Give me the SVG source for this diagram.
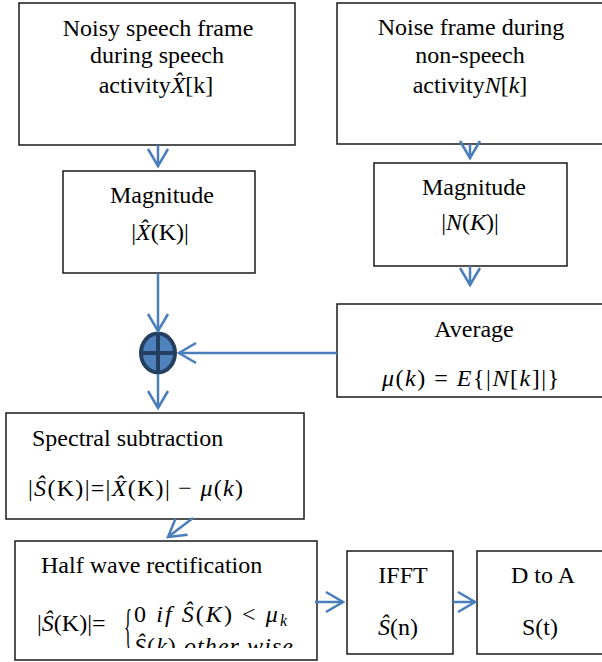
<svg xmlns="http://www.w3.org/2000/svg" width="602" height="662" viewBox="0 0 602 662">
  <style>
    .box { fill: #ffffff; stroke: #1a1a1a; stroke-width: 1.5; }
    text { font-family: 'Liberation Serif', 'DejaVu Serif', serif; font-size: 24px; fill: #000; }
    .i { font-style: italic; }
    .c { text-anchor: middle; }
    .sub { font-size: 16px; }
    .conn { stroke: #4a7ebb; stroke-width: 2.5; fill: none; }
  </style>
  <defs>
    <marker id="arr" markerUnits="userSpaceOnUse" markerWidth="22" markerHeight="24" viewBox="-1 -1 22 24" refX="18" refY="11" orient="auto">
      <path d="M1,1 L18,11 L1,21" fill="none" stroke="#4a7ebb" stroke-width="2.5"/>
    </marker>
    <clipPath id="hwclip">
      <rect x="16" y="542" width="300" height="106"/>
    </clipPath>
  </defs>
  <rect width="602" height="662" fill="#ffffff"/>

  <g id="noisy-frame">
    <rect class="box" x="19" y="3" width="276" height="142"/>
    <text class="c" x="158" y="36">Noisy speech frame</text>
    <text class="c" x="157" y="63">during speech</text>
    <text class="c" x="156" y="93">activity<tspan class="i">X̂</tspan>[k]</text>
  </g>

  <g id="noise-frame">
    <rect class="box" x="337" y="3" width="270" height="141"/>
    <text class="c" x="471" y="35">Noise frame during</text>
    <text class="c" x="470" y="63">non-speech</text>
    <text class="c" x="470" y="93">activity<tspan class="i">N</tspan>[<tspan class="i">k</tspan>]</text>
  </g>

  <g id="magnitude-x">
    <rect class="box" x="63" y="171" width="192" height="102"/>
    <text class="c" x="162" y="203">Magnitude</text>
    <text class="c" x="160" y="240">|<tspan class="i">X̂</tspan>(K)|</text>
  </g>

  <g id="magnitude-n">
    <rect class="box" x="374" y="163" width="193" height="103"/>
    <text class="c" x="474" y="195">Magnitude</text>
    <text class="c" x="470" y="230">|<tspan class="i">N</tspan>(<tspan class="i">K</tspan>)|</text>
  </g>

  <g id="average">
    <rect class="box" x="337" y="304" width="270" height="93"/>
    <text class="c" x="474" y="337">Average</text>
    <text x="382" y="386" textLength="177" lengthAdjust="spacing"><tspan class="i">μ</tspan>(<tspan class="i">k</tspan>) = <tspan class="i">E</tspan>{|<tspan class="i">N</tspan>[<tspan class="i">k</tspan>]|}</text>
  </g>

  <g id="summer">
    <ellipse cx="158" cy="353" rx="17" ry="19.5" fill="#4f81bd" stroke="#243f60" stroke-width="4"/>
    <line x1="158" y1="334" x2="158" y2="372" stroke="#243f60" stroke-width="4"/>
    <line x1="141" y1="353" x2="175" y2="353" stroke="#243f60" stroke-width="4"/>
  </g>

  <g id="spectral-subtraction">
    <rect class="box" x="6" y="413" width="298" height="106"/>
    <text x="32" y="446">Spectral subtraction</text>
    <text x="28" y="496" textLength="215" lengthAdjust="spacing">|<tspan class="i">Ŝ</tspan>(K)|=|<tspan class="i">X̂</tspan>(K)| − <tspan class="i">μ</tspan>(<tspan class="i">k</tspan>)</text>
  </g>

  <g id="half-wave">
    <rect class="box" x="15" y="541" width="302" height="119"/>
    <text x="41" y="573">Half wave rectification</text>
    <text x="37" y="631">|<tspan class="i">Ŝ</tspan>(K)|=</text>
    <g clip-path="url(#hwclip)">
      <text transform="translate(124,643) scale(0.7,2)" x="0" y="0">{</text>
      <text x="134" y="622" textLength="153" lengthAdjust="spacing">0 <tspan class="i">if</tspan>  <tspan class="i">Ŝ</tspan>(<tspan class="i">K</tspan>) &lt; <tspan class="i">μ</tspan><tspan class="i sub" dy="4">k</tspan></text>
      <text x="134" y="654" textLength="159" lengthAdjust="spacing"><tspan class="i">Ŝ</tspan>(<tspan class="i">k</tspan>) <tspan class="i">other wise</tspan></text>
    </g>
  </g>

  <g id="ifft">
    <rect class="box" x="347" y="551" width="106" height="103"/>
    <text class="c" x="403" y="583">IFFT</text>
    <text class="c" x="398" y="635"><tspan class="i">Ŝ</tspan>(n)</text>
  </g>

  <g id="d-to-a">
    <rect class="box" x="477" y="551" width="130" height="103"/>
    <text class="c" x="543" y="583">D to A</text>
    <text class="c" x="540" y="635">S(t)</text>
  </g>

  <g id="connectors">
    <line class="conn" x1="158" y1="145" x2="158" y2="166" marker-end="url(#arr)"/>
    <line class="conn" x1="470" y1="144" x2="470" y2="158" marker-end="url(#arr)"/>
    <line class="conn" x1="470" y1="266" x2="470" y2="285" marker-end="url(#arr)"/>
    <line class="conn" x1="158" y1="273" x2="158" y2="331" marker-end="url(#arr)"/>
    <line class="conn" x1="337" y1="353" x2="179" y2="353" marker-end="url(#arr)"/>
    <line class="conn" x1="158" y1="374" x2="158" y2="408" marker-end="url(#arr)"/>
    <line class="conn" x1="193" y1="518" x2="168" y2="537" marker-end="url(#arr)"/>
    <line class="conn" x1="315" y1="602" x2="343" y2="602" marker-end="url(#arr)"/>
    <line class="conn" x1="453" y1="602" x2="475" y2="602" marker-end="url(#arr)"/>
  </g>
</svg>
